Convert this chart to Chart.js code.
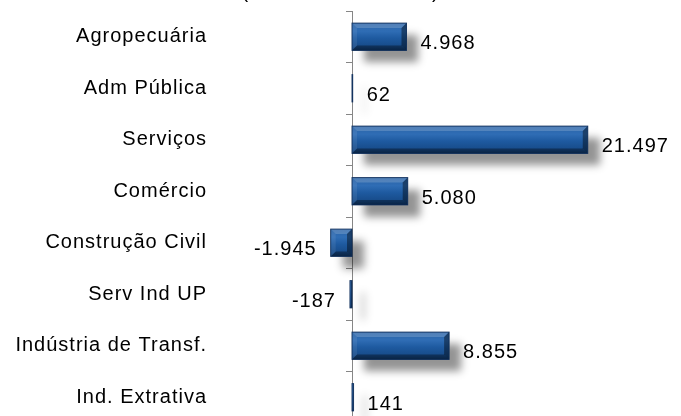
<!DOCTYPE html>
<html lang="pt-BR">
<head>
<meta charset="utf-8">
<title>Saldo por setor</title>
<script src="https://cdn.jsdelivr.net/npm/chart.js@4.4.1/dist/chart.umd.min.js"></script>
<style>
    html, body { margin: 0; padding: 0; background: #fff; overflow: hidden; width: 681px; height: 416px; }
    #caixaGrafico { position: absolute; left: 0; top: -30px; width: 681px; height: 466px; }
</style>
</head>
<body>
<div id="caixaGrafico"><canvas id="graficoSetores"></canvas></div>
<script>
const titulo = "(Acumulado no ano)";
const setores = ["Agropecuária", "Adm Pública", "Serviços", "Comércio", "Construção Civil", "Serv Ind UP", "Indústria de Transf.", "Ind. Extrativa"];
const saldos = [4968, 62, 21497, 5080, -1945, -187, 8855, 141];
const escalaMin = 0;
const escalaMax = 30000;

const fonte = "'Liberation Sans', Arial, sans-serif";

function formatarNumero(v) {
    const s = Math.abs(v).toString().replace(/\B(?=(\d{3})+(?!\d))/g, ".");
    return (v < 0 ? "-" : "") + s;
}

// espaçamento de letras (o original tem texto mais largo)
const espacamento = {
    id: "espacamento",
    beforeUpdate: chart => { chart.ctx.letterSpacing = "1px"; },
    beforeDraw: chart => { chart.ctx.letterSpacing = "1px"; }
};

// sombra das barras + bisel + rótulos de valor
const barras3d = {
    id: "barras3d",
    beforeDatasetsDraw: chart => {
        const ctx = chart.ctx;
        ctx.save();
        ctx.shadowColor = "rgba(0, 0, 0, 0.42)";
        ctx.shadowBlur = 8;
        ctx.shadowOffsetX = 12;
        ctx.shadowOffsetY = 12;
    },
    afterDatasetsDraw: chart => {
        const ctx = chart.ctx;
        ctx.restore();
        const meta = chart.getDatasetMeta(0);

        meta.data.forEach((el, i) => {
            const p = el.getProps(["x", "y", "base", "height"], true);
            const esq = Math.min(p.x, p.base);
            const dir = Math.max(p.x, p.base);
            const topo = p.y - p.height / 2;
            const fundo = p.y + p.height / 2;
            const b = Math.min(5, (dir - esq) / 2, p.height / 2);
            ctx.save();
            if (b > 0.5) {
                // topo
                ctx.fillStyle = "rgba(255, 255, 255, 0.18)";
                ctx.beginPath();
                ctx.moveTo(esq, topo); ctx.lineTo(dir, topo); ctx.lineTo(dir - b, topo + b); ctx.lineTo(esq + b, topo + b);
                ctx.closePath(); ctx.fill();
                // base
                ctx.fillStyle = "rgba(0, 0, 0, 0.35)";
                ctx.beginPath();
                ctx.moveTo(esq, fundo); ctx.lineTo(dir, fundo); ctx.lineTo(dir - b, fundo - b); ctx.lineTo(esq + b, fundo - b);
                ctx.closePath(); ctx.fill();
                // lados
                ctx.fillStyle = "rgba(255, 255, 255, 0.08)";
                ctx.beginPath();
                ctx.moveTo(esq, topo); ctx.lineTo(esq + b, topo + b); ctx.lineTo(esq + b, fundo - b); ctx.lineTo(esq, fundo);
                ctx.closePath(); ctx.fill();
                ctx.fillStyle = "rgba(0, 0, 0, 0.4)";
                ctx.beginPath();
                ctx.moveTo(dir, topo); ctx.lineTo(dir - b, topo + b); ctx.lineTo(dir - b, fundo - b); ctx.lineTo(dir, fundo);
                ctx.closePath(); ctx.fill();
            }
            // contorno
            ctx.strokeStyle = "rgba(14, 45, 90, 0.9)";
            ctx.lineWidth = 1;
            ctx.strokeRect(esq, topo, Math.max(dir - esq, 0.5), p.height);
            ctx.restore();

            const v = saldos[i];
            ctx.save();
            ctx.font = "20px " + fonte;
            ctx.fillStyle = "#000";
            ctx.textBaseline = "middle";
            ctx.textAlign = v < 0 ? "right" : "left";
            ctx.fillText(formatarNumero(v), v < 0 ? p.x - 14 : p.x + 14, p.y + 7);
            ctx.restore();
        });
    }
};

function gradienteBarra(context) {
    const chart = context.chart;
    const y = chart.scales.y;
    if (!y || context.dataIndex === undefined) return "#1d5798";
    const cy = y.getPixelForValue(context.dataIndex);
    if (!Number.isFinite(cy)) return "#1d5798";
    const g = chart.ctx.createLinearGradient(0, cy - 14, 0, cy + 14);
    g.addColorStop(0, "#2a63a6");
    g.addColorStop(0.3, "#2f6db5");
    g.addColorStop(0.55, "#1e5aa0");
    g.addColorStop(0.85, "#174b89");
    g.addColorStop(1, "#0e3566");
    return g;
}

const ctx = document.getElementById("graficoSetores").getContext("2d");

new Chart(ctx, {
    type: "bar",
    data: {
        labels: setores,
        datasets: [{
            label: "Saldo",
            data: saldos,
            backgroundColor: gradienteBarra,
            borderWidth: 0,
            barPercentage: 0.53,
            categoryPercentage: 1,
            clip: false
        }]
    },
    options: {
        indexAxis: "y",
        responsive: true,
        maintainAspectRatio: false,
        animation: false,
        layout: {
            padding: { left: 0, right: 0, top: 0, bottom: 13 }
        },
        plugins: {
            title: {
                display: true,
                text: titulo,
                color: "#000",
                font: { family: fonte, size: 20, weight: "normal" },
                padding: { top: 10, bottom: 7 }
            },
            legend: { display: false },
            tooltip: { enabled: false }
        },
        scales: {
            x: {
                display: false,
                min: escalaMin,
                max: escalaMax
            },
            y: {
                afterFit: scale => {
                    scale.width = 352;
                    scale.paddingTop = 0;
                    scale.paddingBottom = 0;
                },
                grid: {
                    offset: true,
                    drawOnChartArea: false,
                    drawTicks: true,
                    tickLength: 6,
                    color: "#868686"
                },
                border: { display: true, color: "#868686", width: 1 },
                ticks: {
                    color: "#000",
                    padding: 139,
                    font: { family: fonte, size: 20 }
                }
            }
        }
    },
    plugins: [espacamento, barras3d]
});
</script>
</body>
</html>
